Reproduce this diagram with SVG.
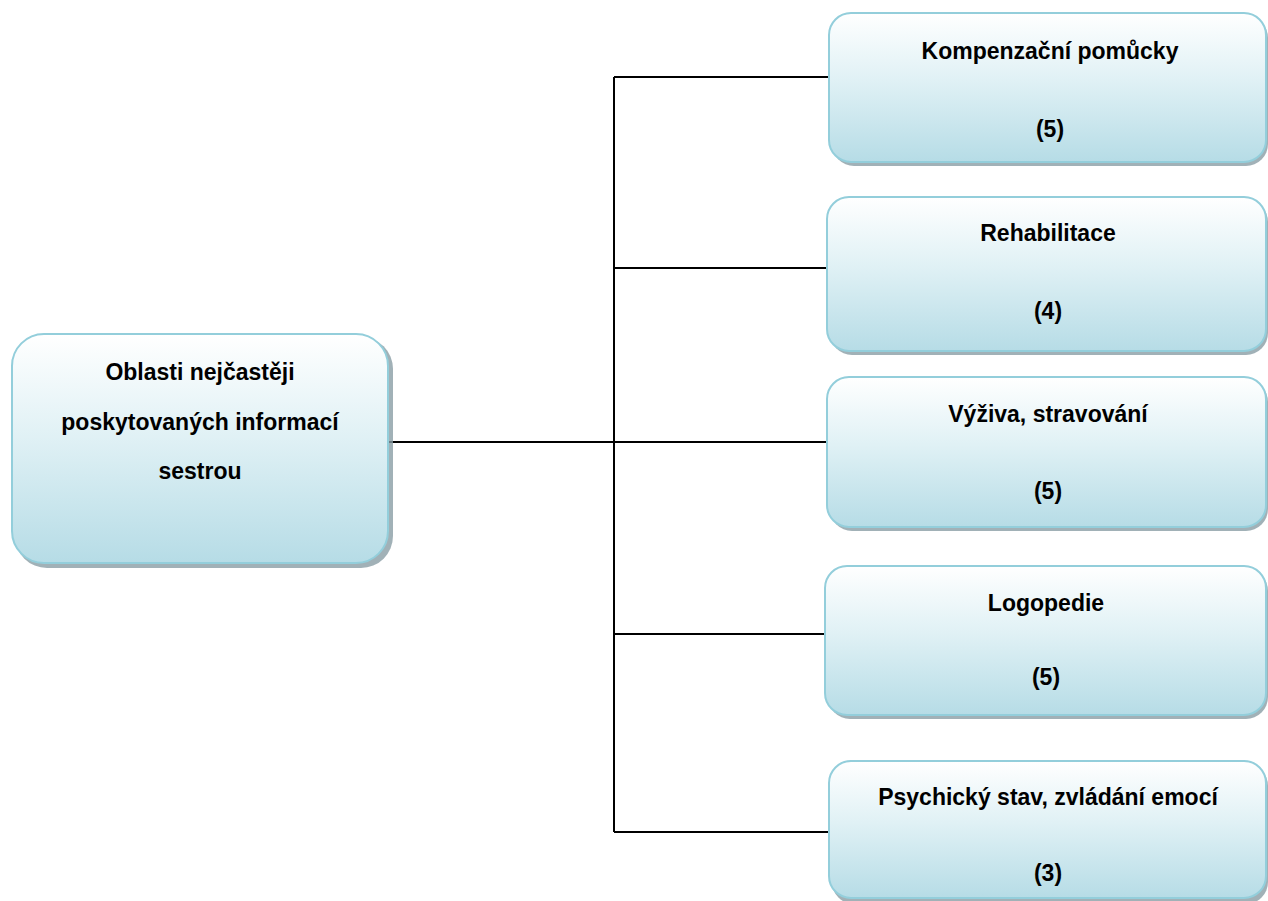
<svg xmlns="http://www.w3.org/2000/svg" width="1268" height="901" viewBox="0 0 1268 901">
<style>
.box{fill:url(#g);stroke:#93cedb;stroke-width:2}
.sh{fill:#8a9ea5;opacity:0.8}
.t{font-family:"Liberation Sans",Arial,sans-serif;font-weight:bold;font-size:23px;fill:#000;text-anchor:middle}
.c{stroke:#000;stroke-width:2;fill:none}
</style>
<defs>
<linearGradient id="g" x1="0" y1="0" x2="0" y2="1">
<stop offset="0" stop-color="#ffffff"/>
<stop offset="0.45" stop-color="#e0f1f5"/>
<stop offset="1" stop-color="#b6dce6"/>
</linearGradient>
</defs>
<rect width="1268" height="901" fill="#fff"/>
<g id="connectors">
<path class="c" d="M388 442H614M614 77V832M614 77H829M614 268H827M614 442H827M614 634H825M614 832H829"/>
</g>
<g id="root">
<rect class="sh" x="15" y="337" width="378" height="231" rx="32"/>
<rect class="box" x="12" y="334" width="376" height="229" rx="32"/>
<text class="t" x="200" y="380">Oblasti nejčastěji</text>
<text class="t" x="200" y="430">poskytovaných informací</text>
<text class="t" x="200" y="479">sestrou</text>
</g>
<g id="n1">
<rect class="sh" x="832" y="16" width="436" height="150" rx="22"/>
<rect class="box" x="829" y="13" width="437" height="149" rx="22"/>
<text class="t" x="1050" y="59">Kompenzační pomůcky</text>
<text class="t" x="1050" y="137">(5)</text>
</g>
<g id="n2">
<rect class="sh" x="830" y="200" width="438" height="155" rx="22"/>
<rect class="box" x="827" y="197" width="439" height="154" rx="22"/>
<text class="t" x="1048" y="241">Rehabilitace</text>
<text class="t" x="1048" y="319">(4)</text>
</g>
<g id="n3">
<rect class="sh" x="830" y="380" width="438" height="151" rx="22"/>
<rect class="box" x="827" y="377" width="439" height="150" rx="22"/>
<text class="t" x="1048" y="422">Výživa, stravování</text>
<text class="t" x="1048" y="499">(5)</text>
</g>
<g id="n4">
<rect class="sh" x="828" y="569" width="440" height="150" rx="22"/>
<rect class="box" x="825" y="566" width="441" height="149" rx="22"/>
<text class="t" x="1046" y="611">Logopedie</text>
<text class="t" x="1046" y="685">(5)</text>
</g>
<g id="n5">
<rect class="sh" x="832" y="764" width="436" height="140" rx="22"/>
<rect class="box" x="829" y="761" width="437" height="137" rx="22"/>
<text class="t" x="1048" y="805">Psychický stav, zvládání emocí</text>
<text class="t" x="1048" y="881">(3)</text>
</g>
</svg>
